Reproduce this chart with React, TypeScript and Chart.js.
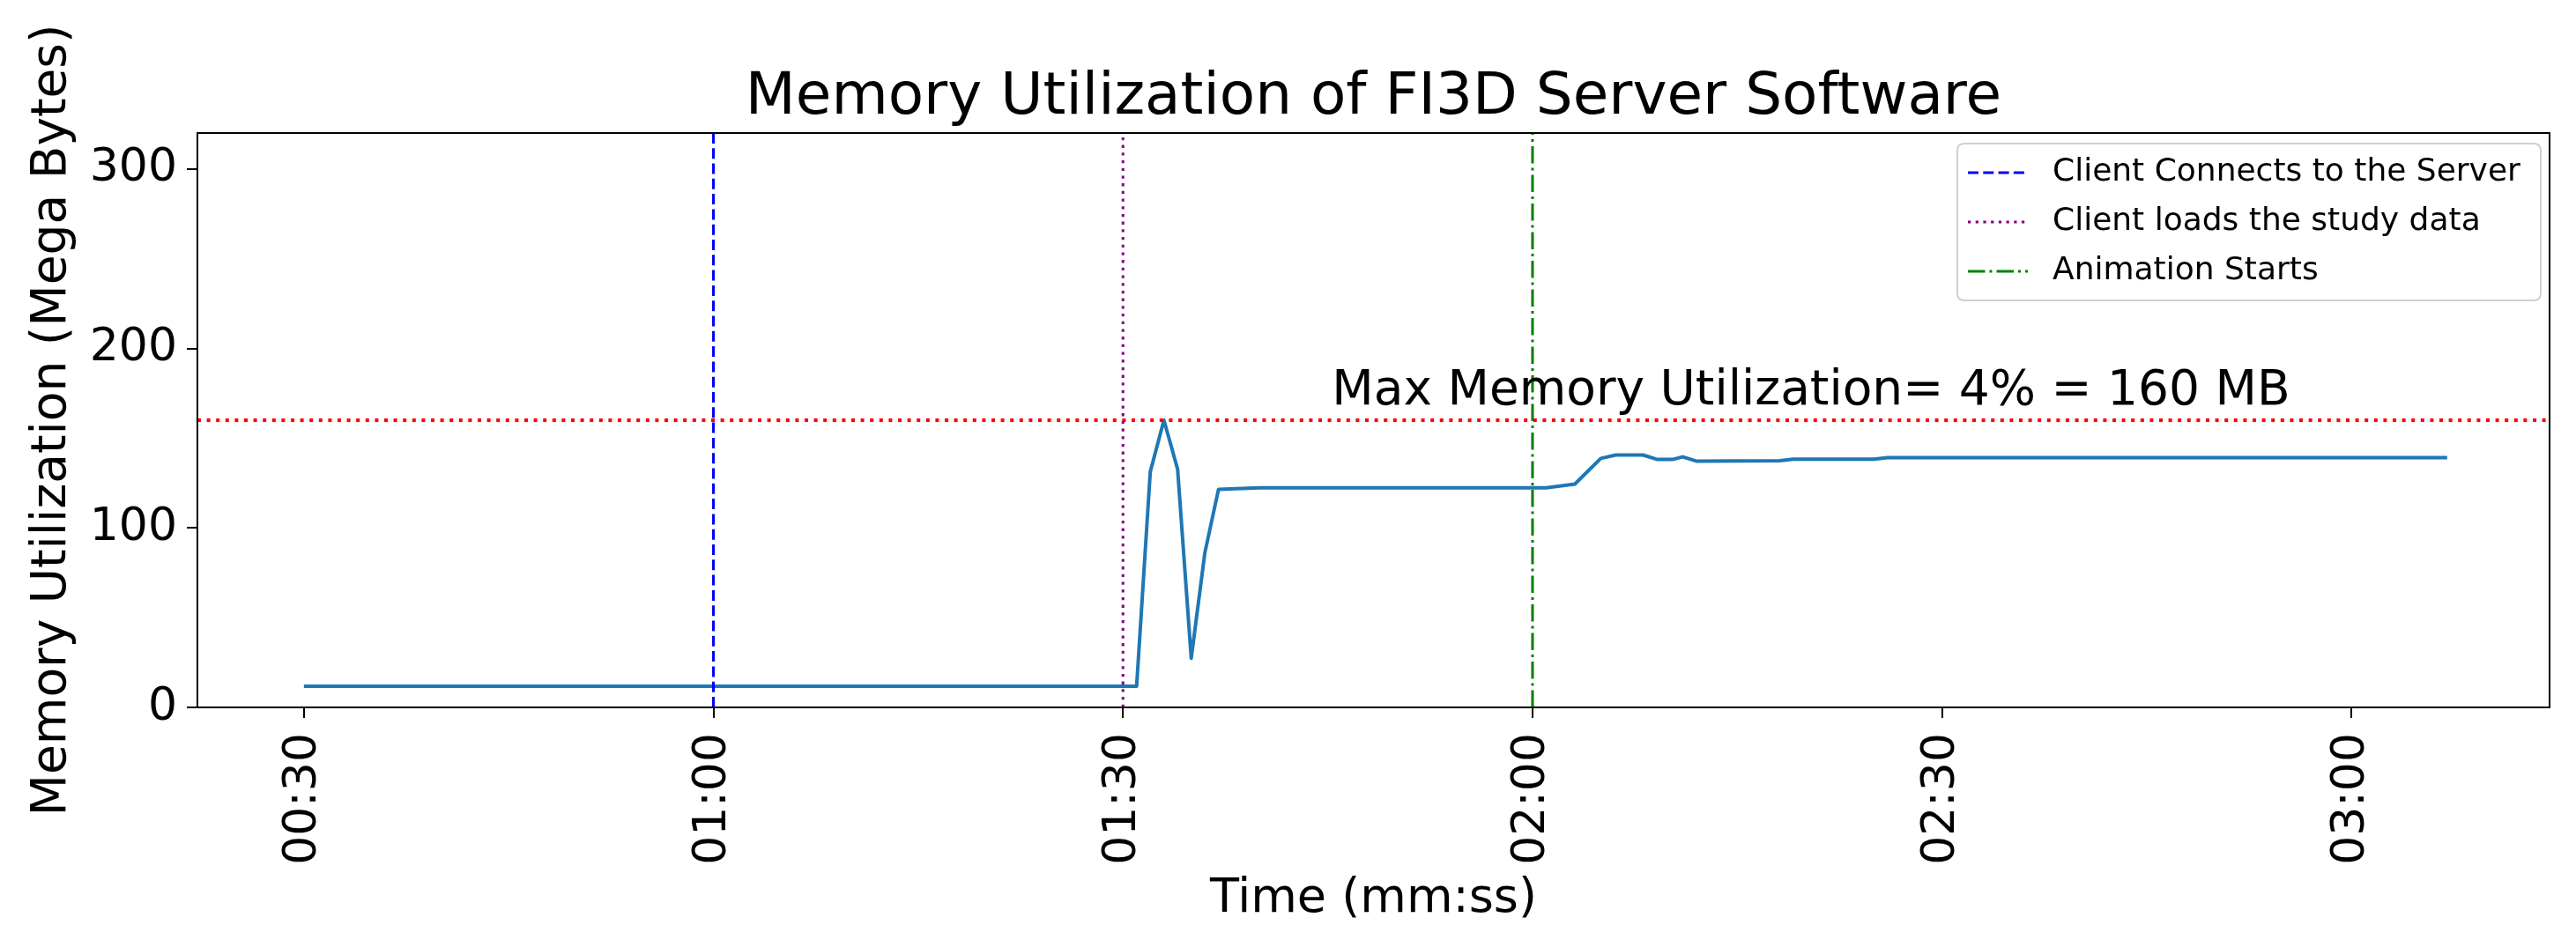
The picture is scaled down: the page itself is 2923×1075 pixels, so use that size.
import React, { useEffect, useRef } from "react";
import { Chart, registerables } from "chart.js";

Chart.register(...registerables);

// ---------------- data ----------------
const timeSeconds = [30, 91, 92, 93, 94, 95, 96, 97, 100, 121, 123.1, 125, 126.1, 128.1, 129.1, 130.3, 131, 132, 138.1, 139.1, 145, 146, 187];
const memoryMB = [11.8, 11.8, 131.3, 160, 132.8, 27.4, 86.2, 121.5, 122.3, 122.3, 124.4, 138.7, 140.6, 140.6, 138.2, 138.2, 139.6, 137.2, 137.4, 138.3, 138.3, 139.1, 139.1];
const eventLabels = ["Client Connects to the Server", "Client loads the study data", "Animation Starts"];
const eventTimes = [60, 90, 120];
const maxMemoryMB = 160;
const annotationText = "Max Memory Utilization= 4% = 160 MB";
const annotationX = 105.3;
const annotationY = 169;
const xTickValues = [30, 60, 90, 120, 150, 180];
const xTickLabels = ["00:30", "01:00", "01:30", "02:00", "02:30", "03:00"];
const yTickValues = [0, 100, 200, 300];
const xRange = [22.2, 194.5];
const yRange = [0, 320];
const titleText = "Memory Utilization of FI3D Server Software";
const xAxisTitle = "Time (mm:ss)";
const yAxisTitle = "Memory Utilization (Mega Bytes)";

// ---------------- styles ----------------
const FONT = "'DejaVu Sans', 'Liberation Sans', sans-serif";
const eventColors = ["#0000ff", "#800080", "#008000"];
const eventDashes = [[12, 5.3], [3.3, 5.4], [19.5, 5, 3, 5]];
const mainColor = "#1f77b4";

const decorPlugin = {
  id: "decor",
  afterDatasetsDraw(chart: any) {
    const ctx = chart.ctx;
    const xs = chart.scales.x;
    const ys = chart.scales.y;
    ctx.save();
    ctx.fillStyle = "#000";
    ctx.font = `55px ${FONT}`;
    ctx.textAlign = "left";
    ctx.textBaseline = "alphabetic";
    ctx.fillText(annotationText, xs.getPixelForValue(annotationX), ys.getPixelForValue(annotationY));
    ctx.restore();
  },
  afterDraw(chart: any) {
    const ctx = chart.ctx;
    const a = chart.chartArea;
    ctx.save();
    // title
    ctx.fillStyle = "#000";
    ctx.font = `66px ${FONT}`;
    ctx.textAlign = "center";
    ctx.textBaseline = "middle";
    ctx.fillText(titleText, (a.left + a.right) / 2, 112);
    // spines
    ctx.strokeStyle = "#000";
    ctx.lineWidth = 2;
    ctx.setLineDash([]);
    ctx.strokeRect(a.left, a.top, a.right - a.left, a.bottom - a.top);
    // legend
    const bw = 662, bh = 178;
    const bx = a.right - 10 - bw;
    const by = a.top + 12;
    const r = 8;
    ctx.beginPath();
    ctx.moveTo(bx + r, by);
    ctx.lineTo(bx + bw - r, by);
    ctx.quadraticCurveTo(bx + bw, by, bx + bw, by + r);
    ctx.lineTo(bx + bw, by + bh - r);
    ctx.quadraticCurveTo(bx + bw, by + bh, bx + bw - r, by + bh);
    ctx.lineTo(bx + r, by + bh);
    ctx.quadraticCurveTo(bx, by + bh, bx, by + bh - r);
    ctx.lineTo(bx, by + r);
    ctx.quadraticCurveTo(bx, by, bx + r, by);
    ctx.closePath();
    ctx.fillStyle = "rgba(255,255,255,0.8)";
    ctx.fill();
    ctx.strokeStyle = "#d0d0d0";
    ctx.lineWidth = 2;
    ctx.stroke();
    ctx.font = `36px ${FONT}`;
    ctx.textAlign = "left";
    ctx.textBaseline = "middle";
    eventLabels.forEach((label, i) => {
      const y = by + 33 + i * 56;
      ctx.strokeStyle = eventColors[i];
      ctx.lineWidth = 3;
      ctx.lineCap = "butt";
      ctx.setLineDash(eventDashes[i]);
      ctx.beginPath();
      ctx.moveTo(bx + 12, y);
      ctx.lineTo(bx + 80, y);
      ctx.stroke();
      ctx.setLineDash([]);
      ctx.fillStyle = "#000";
      ctx.fillText(label, bx + 108, y);
    });
    ctx.restore();
  },
};

export default function App() {
  const ref = useRef<HTMLCanvasElement | null>(null);
  useEffect(() => {
    if (!ref.current) return;
    const mainData = timeSeconds.map((t, i) => ({ x: t, y: memoryMB[i] }));
    const eventSets = eventTimes.map((t, i) => ({
      label: eventLabels[i],
      data: [{ x: t, y: yRange[0] }, { x: t, y: yRange[1] }],
      borderColor: eventColors[i],
      borderWidth: 3,
      borderDash: eventDashes[i],
      borderCapStyle: "butt",
      pointRadius: 0,
      order: 1,
    }));
    const chart = new Chart(ref.current, {
      type: "line",
      data: {
        datasets: [
          {
            label: "Memory",
            data: mainData,
            borderColor: mainColor,
            borderWidth: 4,
            borderJoinStyle: "round",
            pointRadius: 0,
            tension: 0,
            order: 10,
          },
          {
            label: "Max",
            data: [{ x: xRange[0], y: maxMemoryMB }, { x: xRange[1], y: maxMemoryMB }],
            borderColor: "#ff0000",
            borderWidth: 4,
            borderDash: [4, 6.6],
            borderCapStyle: "butt",
            pointRadius: 0,
            order: 2,
          },
          ...eventSets,
        ] as any,
      },
      options: {
        animation: false,
        responsive: false,
        devicePixelRatio: 1,
        layout: { padding: { top: 151, right: 30, left: 0, bottom: 0 } },
        plugins: { legend: { display: false }, tooltip: { enabled: false }, title: { display: false } },
        scales: {
          x: {
            type: "linear",
            min: xRange[0],
            max: xRange[1],
            border: { display: false },
            afterBuildTicks: (s: any) => {
              s.ticks = xTickValues.map((v) => ({ value: v }));
            },
            afterFit: (s: any) => {
              s.height = 272;
            },
            grid: { drawOnChartArea: false, drawTicks: true, tickLength: 12, color: "#000", lineWidth: 2 },
            ticks: {
              autoSkip: false,
              minRotation: 90,
              maxRotation: 90,
              padding: 17,
              color: "#000",
              font: { size: 52, family: FONT },
              callback: (v: any) => {
                const k = xTickValues.indexOf(Number(v));
                return k >= 0 ? xTickLabels[k] : "";
              },
            },
            title: {
              display: true,
              text: xAxisTitle,
              color: "#000",
              font: { size: 54, family: FONT },
              padding: { top: 0, bottom: 21.6 },
            },
          },
          y: {
            type: "linear",
            min: yRange[0],
            max: yRange[1],
            border: { display: false },
            afterBuildTicks: (s: any) => {
              s.ticks = yTickValues.map((v) => ({ value: v }));
            },
            afterFit: (s: any) => {
              s.width = 224;
            },
            grid: { drawOnChartArea: false, drawTicks: true, tickLength: 12, color: "#000", lineWidth: 2 },
            ticks: {
              padding: 11,
              color: "#000",
              font: { size: 52, family: FONT },
              callback: (v: any) => String(v),
            },
            title: {
              display: true,
              text: yAxisTitle,
              color: "#000",
              font: { size: 55, family: FONT },
              padding: { top: 27, bottom: 0 },
            },
          },
        },
      } as any,
      plugins: [decorPlugin],
    });
    return () => chart.destroy();
  }, []);
  return (
    <div style={{ position: "absolute", left: 0, top: 0, width: 2923, height: 1075, background: "#fff" }}>
      <canvas ref={ref} width={2923} height={1075} style={{ display: "block" }} />
    </div>
  );
}
